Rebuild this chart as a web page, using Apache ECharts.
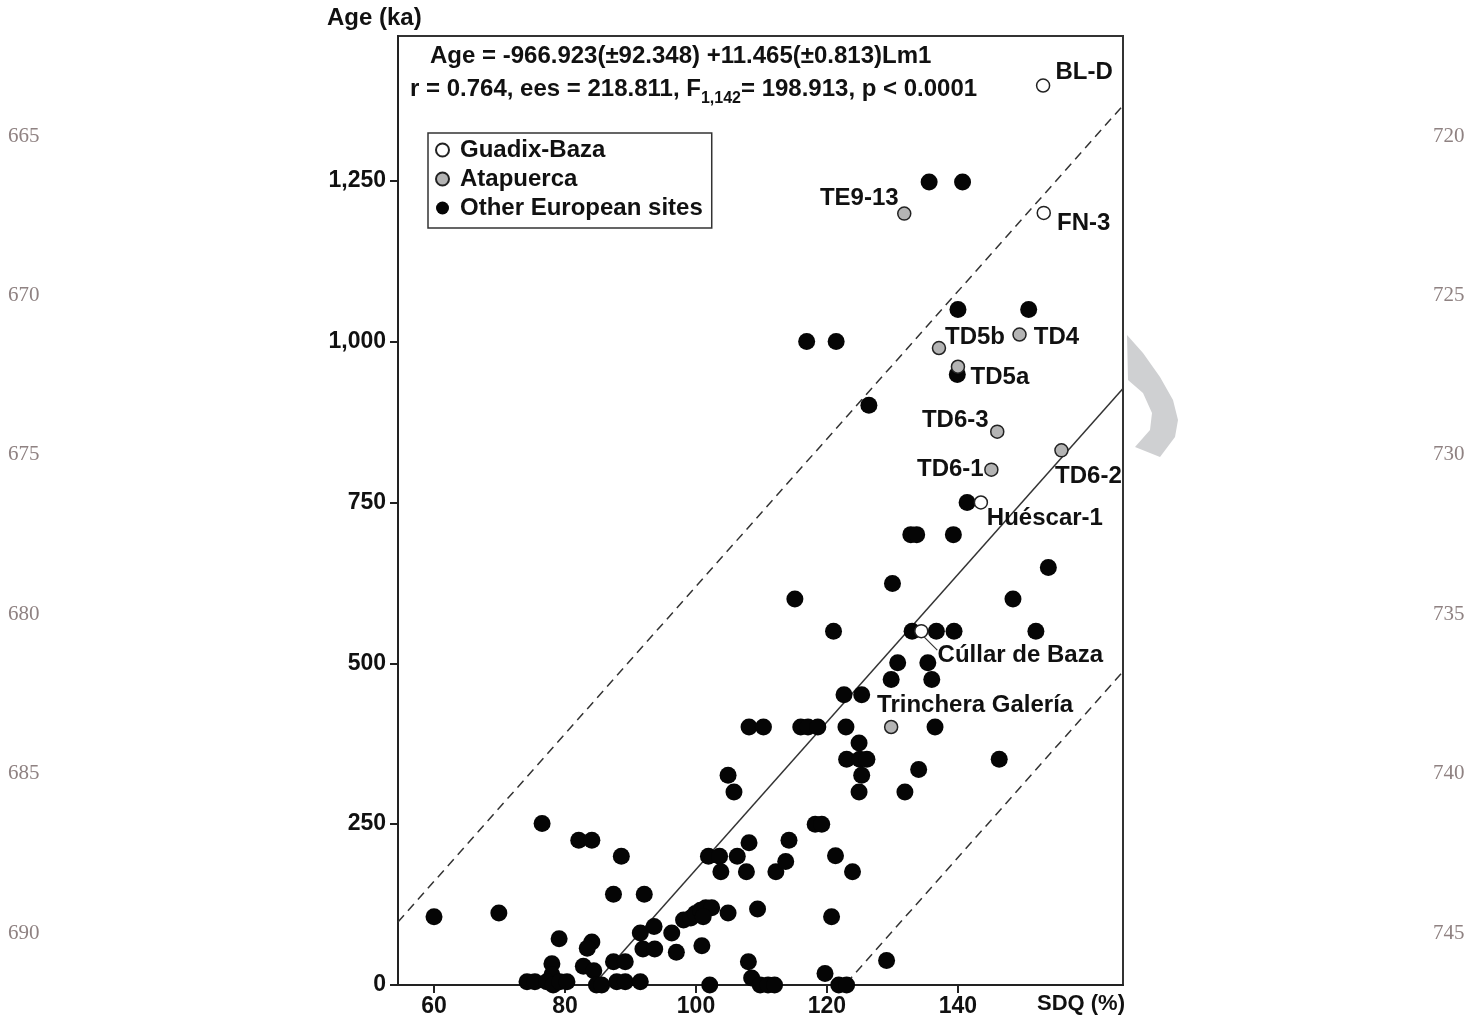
<!DOCTYPE html>
<html>
<head>
<meta charset="utf-8">
<title>SDQ vs Age</title>
<script src="https://cdn.jsdelivr.net/npm/echarts@6/dist/echarts.min.js"></script>
<style>
html, body { margin: 0; padding: 0; background: #fff; }
#chart { width: 1483px; height: 1021px; }
</style>
</head>
<body>
<div id="chart"></div>
<script>
// Other European sites (SDQ %, age ka)
const otherSdq = [
    60, 69.9, 76.5, 82.1, 84.1, 88.6, 87.4, 92.1, 79.1, 84.1, 83.4, 78, 78, 82.8, 84.4, 87.4, 89.2,
    91.5, 93.6, 91.9, 93.7, 96.3, 97.0, 98.1, 99.2, 99.9, 100.7, 101.5, 102.4, 101.1, 100.9,
    101.9, 103.6, 103.8, 104.9, 102.1,
    74.2, 75.4, 77.2, 78.2, 79.2, 80.3, 84.8, 85.6, 87.9, 89.2, 91.5,
    106.3, 107.7, 108.1, 109.4, 108.0, 108.5, 109.8, 111.0, 112.0, 112.2, 113.7, 114.2, 118.2, 119.2,
    121.3, 123.9, 120.7, 119.7, 121.8, 123.0, 129.1,
    104.9, 105.8, 108.1, 110.3, 116.0, 117.1, 118.6, 122.9, 136.5, 124.9, 123.0, 125.0, 126.1, 146.3,
    134.0, 125.3, 124.9, 131.9, 122.6, 125.3, 129.8, 136.0, 130.8, 135.4, 121.0, 133.0, 136.7, 139.4,
    151.9, 115.1, 148.4, 130.0, 153.8, 132.8, 133.7, 139.3, 141.4,
    126.4, 116.9, 121.4, 139.9, 140.0, 150.8, 135.6, 140.7
]
const otherAge = [
    106, 112, 251, 225, 225, 200, 141, 141, 72, 67, 57, 33, 16, 29, 22, 36, 36,
    81, 91, 56, 56, 81, 51, 101, 104, 111, 116, 120, 120, 106, 61,
    200, 200, 176, 112, 0,
    5, 5, 5, 0, 5, 5, 0, 0, 5, 5, 5,
    200, 176, 221, 118, 36, 11, 0, 0, 0, 176, 192, 225, 250, 250,
    201, 176, 106, 18, 0, 0, 38,
    326, 300, 401, 401, 401, 401, 401, 401, 401, 376, 351, 351, 351, 351,
    335, 326, 300, 300, 451, 451, 475, 475, 501, 501, 550, 550, 550, 550,
    550, 600, 600, 624, 649, 700, 700, 700, 750,
    901, 1000, 1000, 949, 1050, 1050, 1248, 1248
]

// Atapuerca
const atapuercaNames = ['TE9-13', 'TD5b', 'TD4', 'TD5a', 'TD6-3', 'TD6-1', 'TD6-2', 'Trinchera Galería']
const atapuercaSdq = [131.8, 137.1, 149.4, 140.0, 146.0, 145.1, 155.8, 129.8]
const atapuercaAge = [1199, 990, 1011, 961, 860, 801, 831, 401]

// Guadix-Baza
const guadixNames = ['BL-D', 'FN-3', 'Huéscar-1', 'Cúllar de Baza']
const guadixSdq = [153.0, 153.1, 143.5, 134.4]
const guadixAge = [1398, 1200, 750, 550]

const xTicks = [60, 80, 100, 120, 140]
const yTicks = [0, 250, 500, 750, 1000, 1250]

// Age = -966.923 + 11.465 * SDQ, dashed band either side
const intercept = -966.923
const slope = 11.465
const bandHalfWidth = 440

const leftLineNumbers = [665, 670, 675, 680, 685, 690]
const rightLineNumbers = [720, 725, 730, 735, 740, 745]

const X_MIN = 54.5
const X_MAX = 165.2
const Y_MAX = 1475

const FONT = '"Liberation Sans", Arial, sans-serif'
const INK = '#111'

const labelOffsets = {
    'BL-D': [41, -13],
    'FN-3': [40, 10],
    'Huéscar-1': [64, 16],
    'Cúllar de Baza': [99, 24],
    'TE9-13': [-45, -15],
    'TD5b': [36, -11],
    'TD4': [37, 3],
    'TD5a': [42, 11],
    'TD6-3': [-42, -11],
    'TD6-1': [-41, 0],
    'TD6-2': [27, 26],
    'Trinchera Galería': [84, -22],
}

const pointLabel = (name) => ({
    show: true,
    formatter: '{b}',
    position: 'inside',
    offset: labelOffsets[name] || [0, 0],
    color: INK,
    fontFamily: FONT,
    fontWeight: 'bold',
    fontSize: 24,
})

const named = (names, xs, ys) => names.map((name, i) => ({
    name,
    value: [xs[i], ys[i]],
    label: pointLabel(name),
}))

const fit = (x, shift) => intercept + slope * x + shift
const fitLine = (shift) => [[X_MIN, fit(X_MIN, shift)], [X_MAX, fit(X_MAX, shift)]]

const lineSeries = (shift, dashed) => ({
    type: 'line',
    data: fitLine(shift),
    symbol: 'none',
    silent: true,
    clip: true,
    z: 1,
    lineStyle: {
        color: '#333',
        width: 1.5,
        type: dashed ? [9, 6] : 'solid',
    },
})

const axisText = {
    color: INK,
    fontFamily: FONT,
    fontWeight: 'bold',
    fontSize: 23,
}

const chart = echarts.init(document.getElementById('chart'))

chart.setOption({
    animation: false,
    backgroundColor: '#fff',
    grid: {
        left: 398,
        top: 36,
        width: 725,
        height: 949,
        show: true,
        borderColor: '#333',
        borderWidth: 2,
        backgroundColor: 'transparent',
    },
    legend: {
        data: ['Guadix-Baza', 'Atapuerca', 'Other European sites'],
        orient: 'vertical',
        left: 428,
        top: 133,
        padding: [5, 9, 8, 7],
        itemGap: 5,
        itemWidth: 13,
        itemHeight: 13,
        borderColor: '#333',
        borderWidth: 1.5,
        backgroundColor: '#fff',
        selectedMode: false,
        textStyle: {
            color: INK,
            fontFamily: FONT,
            fontWeight: 'bold',
            fontSize: 24,
            padding: [0, 0, 0, 6],
        },
    },
    xAxis: {
        type: 'value',
        min: X_MIN,
        max: X_MAX,
        axisLine: { show: true, lineStyle: { color: '#222', width: 2 } },
        axisTick: { show: true, customValues: xTicks, length: 8, lineStyle: { color: '#222', width: 2 } },
        axisLabel: { customValues: xTicks, margin: 10, ...axisText },
        splitLine: { show: false },
    },
    yAxis: {
        type: 'value',
        min: 0,
        max: Y_MAX,
        axisLine: { show: true, lineStyle: { color: '#222', width: 2 } },
        axisTick: { show: true, customValues: yTicks, length: 8, lineStyle: { color: '#222', width: 2 } },
        axisLabel: {
            customValues: yTicks,
            margin: 12,
            ...axisText,
            formatter: (v) => v.toLocaleString('en-US'),
        },
        splitLine: { show: false },
    },
    series: [
        lineSeries(0, false),
        lineSeries(bandHalfWidth, true),
        lineSeries(-bandHalfWidth, true),
        {
            name: 'Other European sites',
            type: 'scatter',
            symbolSize: 17,
            z: 3,
            itemStyle: { color: '#050505', opacity: 1 },
            data: otherSdq.map((x, i) => [x, otherAge[i]]),
        },
        {
            name: 'Atapuerca',
            type: 'scatter',
            symbolSize: 13,
            z: 4,
            itemStyle: { color: '#b4b4b4', borderColor: '#222', borderWidth: 1.5, opacity: 1 },
            data: named(atapuercaNames, atapuercaSdq, atapuercaAge),
        },
        {
            name: 'Guadix-Baza',
            type: 'scatter',
            symbolSize: 13,
            z: 4,
            itemStyle: { color: '#fff', borderColor: '#222', borderWidth: 1.5, opacity: 1 },
            data: named(guadixNames, guadixSdq, guadixAge),
        },
    ],
})

// annotations: axis names, equation, leader line, page line numbers, margin mark
const boldText = (x, y, text, align, size) => ({
    type: 'text',
    x,
    y,
    z: 10,
    style: {
        text,
        fill: INK,
        font: `bold ${size || 22}px ${FONT}`,
        align: align || 'left',
        verticalAlign: 'middle',
    },
})

const cullarIdx = guadixNames.indexOf('Cúllar de Baza')
const cullarPx = chart.convertToPixel({ gridIndex: 0 }, [guadixSdq[cullarIdx], guadixAge[cullarIdx]])

const lineNumberText = (num, i, x) => ({
    type: 'text',
    x,
    y: 136 + i * 159.4,
    style: {
        text: String(num),
        fill: '#8f8282',
        font: `21px "Liberation Serif", "DejaVu Serif", serif`,
        align: 'left',
        verticalAlign: 'middle',
    },
})

chart.setOption({
    graphic: [
        boldText(327, 18, 'Age (ka)', 'left', 24),
        boldText(1125, 1004, 'SDQ (%)', 'right', 22),
        boldText(430, 56, 'Age = -966.923(±92.348) +11.465(±0.813)Lm1', 'left', 24),
        {
            type: 'text',
            x: 410,
            y: 89,
            z: 10,
            style: {
                text: 'r = 0.764, ees = 218.811, F{sub|1,142}= 198.913, p < 0.0001',
                fill: INK,
                font: `bold 24px ${FONT}`,
                verticalAlign: 'middle',
                lineHeight: 36,
                rich: {
                    sub: {
                        fontFamily: FONT,
                        fontWeight: 'bold',
                        fontSize: 16,
                        lineHeight: 16,
                        verticalAlign: 'bottom',
                        fill: INK,
                    },
                },
            },
        },
        {
            type: 'line',
            z: 10,
            shape: { x1: cullarPx[0] + 3, y1: cullarPx[1] + 6, x2: cullarPx[0] + 16, y2: cullarPx[1] + 19 },
            style: { stroke: '#333', lineWidth: 1.2 },
        },
        ...leftLineNumbers.map((n, i) => lineNumberText(n, i, 8)),
        ...rightLineNumbers.map((n, i) => lineNumberText(n, i, 1433)),
        {
            type: 'polygon',
            z: 0,
            shape: {
                points: [
                    [1127, 335], [1143, 353], [1160, 377], [1173, 400], [1178, 420], [1175, 437],
                    [1160, 457], [1135, 447], [1150, 430], [1152, 413], [1143, 393], [1128, 380],
                ],
            },
            style: { fill: '#cfd0d2' },
        },
    ],
})

window.addEventListener('resize', () => chart.resize())
</script>
</body>
</html>
